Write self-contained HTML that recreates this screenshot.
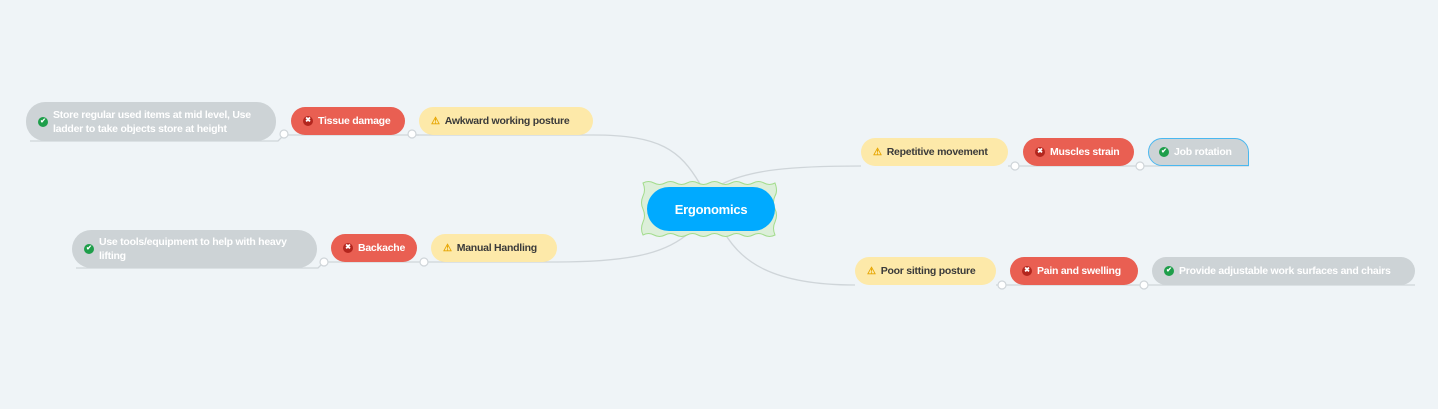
<!DOCTYPE html>
<html><head><meta charset="utf-8"><style>
body{margin:0;width:1438px;height:409px;background:#eff4f7;position:relative;overflow:hidden;font-family:"Liberation Sans",sans-serif;}
.n{position:absolute;box-sizing:border-box;border-radius:15px;font-size:10.5px;letter-spacing:-0.25px;font-weight:bold;display:flex;align-items:center;padding:0 12px;white-space:nowrap;}
.y{background:#fde9a9;color:#3a3a3a;}
.r{background:#e95f52;color:#fff;}
.g{background:#cdd3d6;color:#fff;line-height:14px;border-radius:19px;}
.ic{display:inline-block;width:10px;height:10px;border-radius:50%;margin-right:5px;font-size:7px;line-height:10px;text-align:center;color:#fff;flex:none;letter-spacing:0;}
.ok{background:#1e9e4a;}
.x{background:#b3261e;}
.w{color:#e7a500;font-size:10px;margin-right:5px;}
</style></head><body>
<svg width="1438" height="409" style="position:absolute;left:0;top:0">
<g fill="none" stroke="#cfd5d9" stroke-width="1.3">
<path d="M593 135 C660 135 680 150 700 184"/>
<path d="M861 166 C790 166 750 170 722 184"/>
<path d="M557 262 C640 262 670 250 690 232"/>
<path d="M855 285 C770 285 740 260 724 232"/>
<path d="M30 141 H278 L284 135 H419"/>
<path d="M412 135 H593"/>
<path d="M76 268 H318 L324 262 H557"/>
<path d="M1008 166 H1249"/>
<path d="M996 285 H1415"/>
</g>
<g fill="#fff" stroke="#cfd5d9" stroke-width="1.2">
<circle cx="284" cy="134" r="4"/><circle cx="412" cy="134" r="4"/>
<circle cx="324" cy="262" r="4"/><circle cx="424" cy="262" r="4"/>
<circle cx="1015" cy="166" r="4"/><circle cx="1140" cy="166" r="4"/>
<circle cx="1002" cy="285" r="4"/><circle cx="1144" cy="285" r="4"/>
</g>
<path d="M643 183 q5.5 -3 11 0 q5.5 3 11 0 q5.5 -3 11 0 q5.5 3 11 0 q5.5 -3 11 0 q5.5 3 11 0 q5.5 -3 11 0 q5.5 3 11 0 q5.5 -3 11 0 q5.5 3 11 0 q5.5 -3 11 0 q5.5 3 11 0 q3 8 0 13 q-3 6 0 13 q3 6 0 13 q-3 6 0 13 q-5.5 3 -11 0 q-5.5 -3 -11 0 q-5.5 3 -11 0 q-5.5 -3 -11 0 q-5.5 3 -11 0 q-5.5 -3 -11 0 q-5.5 3 -11 0 q-5.5 -3 -11 0 q-5.5 3 -11 0 q-5.5 -3 -11 0 q-5.5 3 -11 0 q-5.5 -3 -11 0 q-3 -6 0 -13 q3 -6 0 -13 q-3 -6 0 -13 q3 -6 0 -13 z" fill="#dcefd9" stroke="#a3dc8d" stroke-width="1"/>
</svg>
<div class="n" style="left:647px;top:187px;width:128px;height:44px;background:#00aaff;color:#fff;font-size:13px;border-radius:22px;justify-content:center;">Ergonomics</div>

<div class="n g" style="left:26px;top:102px;width:250px;height:39px;white-space:normal;padding-left:12px;"><span class="ic ok">✔</span><span>Store regular used items at mid level, Use ladder to take objects store at height</span></div>
<div class="n r" style="left:291px;top:107px;width:114px;height:28px;"><span class="ic x">✖</span>Tissue damage</div>
<div class="n y" style="left:419px;top:107px;width:174px;height:28px;"><span class="w">⚠</span>Awkward working posture</div>

<div class="n g" style="left:72px;top:230px;width:245px;height:38px;white-space:normal;"><span class="ic ok">✔</span><span>Use tools/equipment to help with heavy lifting</span></div>
<div class="n r" style="left:331px;top:234px;width:86px;height:28px;"><span class="ic x">✖</span>Backache</div>
<div class="n y" style="left:431px;top:234px;width:126px;height:28px;"><span class="w">⚠</span>Manual Handling</div>

<div class="n y" style="left:861px;top:138px;width:147px;height:28px;"><span class="w">⚠</span>Repetitive movement</div>
<div class="n r" style="left:1023px;top:138px;width:111px;height:28px;"><span class="ic x">✖</span>Muscles strain</div>
<div class="n g" style="left:1148px;top:138px;width:101px;height:28px;border:1.5px solid #4ab8f0;border-radius:14px 14px 0 14px;padding-left:10px;"><span class="ic ok">✔</span>Job rotation</div>

<div class="n y" style="left:855px;top:257px;width:141px;height:28px;"><span class="w">⚠</span>Poor sitting posture</div>
<div class="n r" style="left:1010px;top:257px;width:128px;height:28px;"><span class="ic x">✖</span>Pain and swelling</div>
<div class="n g" style="left:1152px;top:257px;width:263px;height:28px;border-radius:14px;"><span class="ic ok">✔</span>Provide adjustable work surfaces and chairs</div>
</body></html>
